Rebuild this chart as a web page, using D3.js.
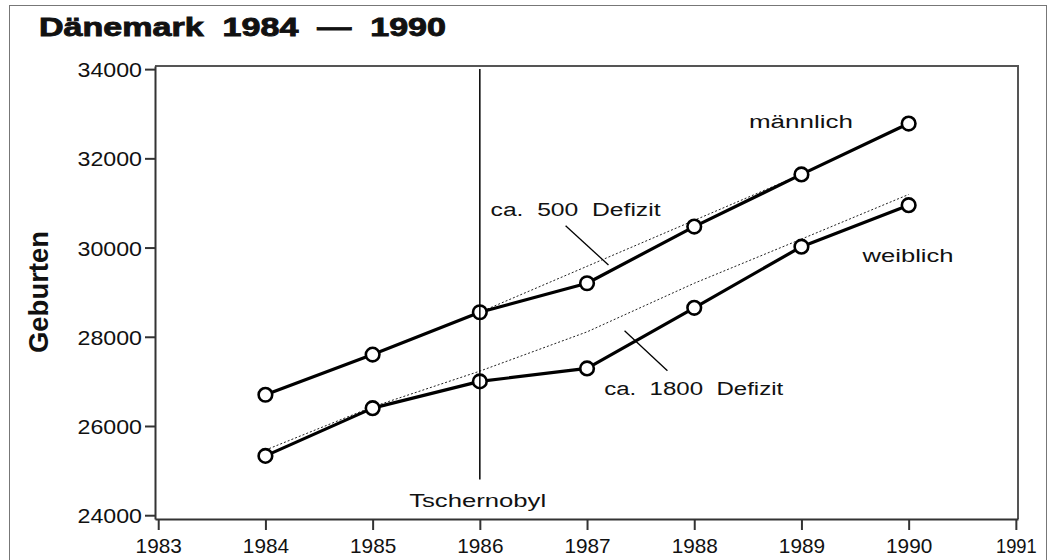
<!DOCTYPE html>
<html>
<head>
<meta charset="utf-8">
<script src="https://cdn.jsdelivr.net/npm/d3@7"></script>
<style>
	body { margin: 0; background: #fff; }
	text { font-family: "Liberation Sans", Arial, sans-serif; fill: #111; white-space: pre; }
</style>
</head>
<body>
<div id="chart"></div>
<script>

//----------------------------
// Data
//----------------------------

var years = [1984, 1985, 1986, 1987, 1988, 1989, 1990];
var maleBirths = [26700, 27600, 28550, 29200, 30470, 31640, 32780];
var femaleBirths = [25330, 26400, 27000, 27290, 28650, 30020, 30950];

// expected trend (dotted) lines
var maleTrendYears = [1986, 1987, 1988, 1989];
var maleTrend = [28550, 29580, 30610, 31640];
var femaleTrendYears = [1984, 1985, 1986, 1987, 1988, 1989, 1990];
var femaleTrend = [25460, 26430, 27230, 28110, 29200, 30190, 31190];

var xTicks = [1983, 1984, 1985, 1986, 1987, 1988, 1989, 1990, 1991];
var yTicks = [24000, 26000, 28000, 30000, 32000, 34000];

var title = "Dänemark  1984  —  1990";
var yTitle = "Geburten";
var eventYear = 1986;
var eventLabel = "Tschernobyl";

//----------------------------
// Layout
//----------------------------

var totwidth = 1054,
	totheight = 560,
	plotLeft = 155,
	plotRight = 1018,
	plotTop = 66,
	plotBottom = 519;

var svg = d3.select("#chart").append("svg")
	.attr("width", totwidth)
	.attr("height", totheight);

// outer frame
svg.append("rect")
	.attr("x", 9.5)
	.attr("y", 5.5)
	.attr("width", 1037)
	.attr("height", 560)
	.attr("fill", "white")
	.attr("stroke", "#777")
	.attr("stroke-width", 1);

// Scales

var x = d3.scaleLinear()
	.domain([1982.97, 1991.02])
	.range([plotLeft, plotRight]);

var y = d3.scaleLinear()
	.domain([23915, 34070])
	.range([plotBottom, plotTop]);

// narrow "1" in the original typeface
function numWidth(s) {
	var w = 0;
	String(s).split("").forEach(function(c) { w += (c === "1") ? 7.5 : 12.9; });
	return w;
}

// plot box (top + right)
svg.append("path")
	.attr("d", "M" + plotLeft + "," + plotTop + "H" + plotRight + "V" + plotBottom)
	.attr("fill", "none")
	.attr("stroke", "#555")
	.attr("stroke-width", 2);

// Axes

var yAxis = d3.axisLeft(y)
	.tickValues(yTicks)
	.tickSize(10)
	.tickSizeOuter(0)
	.tickPadding(3)
	.tickFormat(function(d) { return d; });

var gy = svg.append("g")
	.attr("transform", "translate(" + plotLeft + ",0)")
	.call(yAxis);

var xAxis = d3.axisBottom(x)
	.tickValues(xTicks)
	.tickSize(11)
	.tickSizeOuter(0)
	.tickPadding(8)
	.tickFormat(function(d) { return d; });

var gx = svg.append("g")
	.attr("transform", "translate(0," + plotBottom + ")")
	.call(xAxis);

[gx, gy].forEach(function(g) {
	g.select(".domain").attr("stroke", "#333").attr("stroke-width", 2);
	g.selectAll(".tick line").attr("stroke", "#333").attr("stroke-width", 2);
	g.selectAll(".tick text")
		.style("font-family", "'Liberation Sans', Arial, sans-serif")
		.style("font-size", "21px")
		.attr("fill", "#111")
		.attr("textLength", function(d) { return numWidth(d); })
		.attr("lengthAdjust", "spacingAndGlyphs");
});
gy.selectAll(".tick text").attr("dy", "0.36em");

// Titles

svg.append("text")
	.attr("x", 39)
	.attr("y", 36)
	.attr("font-size", 26)
	.attr("font-weight", "bold")
	.attr("stroke", "#111")
	.attr("stroke-width", 0.9)
	.attr("textLength", 407)
	.attr("lengthAdjust", "spacingAndGlyphs")
	.text(title);

svg.append("text")
	.attr("transform", "translate(48,292) rotate(-90)")
	.attr("text-anchor", "middle")
	.attr("font-size", 27)
	.attr("font-weight", "bold")
	.attr("textLength", 122)
	.attr("lengthAdjust", "spacingAndGlyphs")
	.text(yTitle);

// Trend lines (dotted)

var line = d3.line()
	.x(function(d) { return x(d[0]); })
	.y(function(d) { return y(d[1]); });

svg.append("path")
	.datum(d3.zip(maleTrendYears, maleTrend))
	.attr("d", line)
	.attr("fill", "none")
	.attr("stroke", "#222")
	.attr("stroke-width", 1)
	.attr("stroke-dasharray", "2,2");

svg.append("path")
	.datum(d3.zip(femaleTrendYears, femaleTrend))
	.attr("d", line)
	.attr("fill", "none")
	.attr("stroke", "#222")
	.attr("stroke-width", 1)
	.attr("stroke-dasharray", "2,2");

// Series lines

[maleBirths, femaleBirths].forEach(function(vals) {
	svg.append("path")
		.datum(d3.zip(years, vals))
		.attr("d", line)
		.attr("fill", "none")
		.attr("stroke", "#000")
		.attr("stroke-width", 3.2)
		.attr("stroke-linejoin", "round");

	svg.append("g")
		.selectAll("circle")
		.data(d3.zip(years, vals))
		.enter().append("circle")
			.attr("cx", function(d) { return x(d[0]); })
			.attr("cy", function(d) { return y(d[1]); })
			.attr("r", 6.8)
			.attr("fill", "white")
			.attr("stroke", "#000")
			.attr("stroke-width", 2.6);
});

// Tschernobyl marker

svg.append("line")
	.attr("x1", x(eventYear))
	.attr("x2", x(eventYear))
	.attr("y1", y(34000))
	.attr("y2", y(24800))
	.attr("stroke", "#000")
	.attr("stroke-width", 1.5);

// Annotations: [year, value, text, width, anchor]

var labels = [
	[1985.98, 24177, eventLabel, 137, "middle"],
	[1986.10, 30707, "ca.  500  Defizit", 170, "start"],
	[1987.16, 26688, "ca.  1800  Defizit", 179, "start"],
	[1988.51, 32686, "männlich", 104, "start"],
	[1989.57, 29683, "weiblich", 91, "start"]
];

svg.append("g")
	.selectAll("text")
	.data(labels)
	.enter().append("text")
		.attr("x", function(d) { return x(d[0]); })
		.attr("y", function(d) { return y(d[1]); })
		.attr("text-anchor", function(d) { return d[4]; })
		.attr("font-size", 18)
		.attr("textLength", function(d) { return d[3]; })
		.attr("lengthAdjust", "spacingAndGlyphs")
		.text(function(d) { return d[2]; });

// leader lines: [year1, value1, year2, value2]

var leaders = [
	[1986.80, 30490, 1987.20, 29609],
	[1987.35, 28136, 1987.75, 27239]
];

svg.append("g")
	.selectAll("line")
	.data(leaders)
	.enter().append("line")
		.attr("x1", function(d) { return x(d[0]); })
		.attr("y1", function(d) { return y(d[1]); })
		.attr("x2", function(d) { return x(d[2]); })
		.attr("y2", function(d) { return y(d[3]); })
		.attr("stroke", "#000")
		.attr("stroke-width", 1.3);

</script>
</body>
</html>
